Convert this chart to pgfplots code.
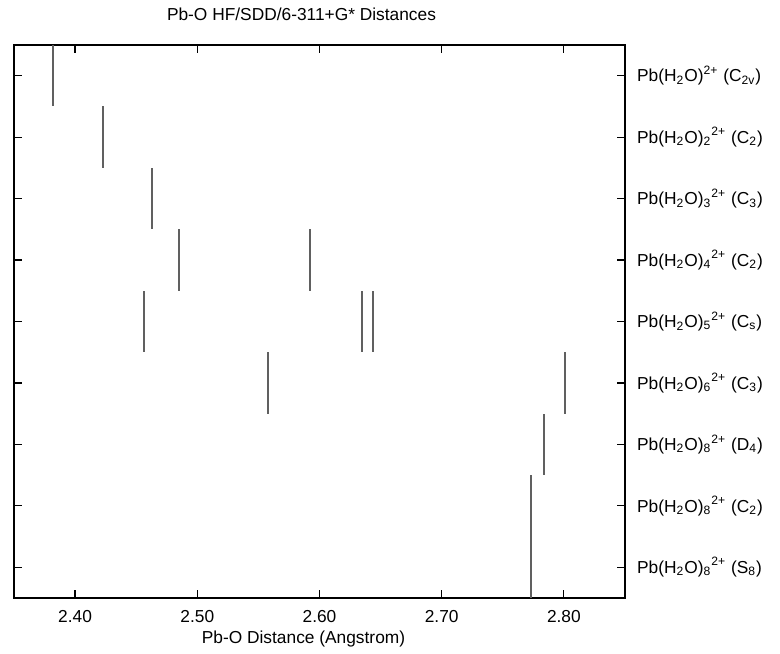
\documentclass[border=0pt]{standalone}
\usepackage{fontspec}
\setmainfont{Liberation Sans}
\usepackage{pgfplots}
\pgfplotsset{compat=1.18}
\usetikzlibrary{calc}

\pgfplotstableread{
dist row
2.382 9
2.423 8
2.463 7
2.485 6
2.592 6
2.456 5
2.635 5
2.644 5
2.558 4
2.801 4
2.784 3
2.773 2
2.773 1
}\pbodata

\newcommand{\pbw}[1]{Pb(H\textsubscript{2}O)\textsubscript{#1}\textsuperscript{2+}}

\begin{document}
\fontsize{8.7}{10.4}\selectfont
\begin{tikzpicture}
\begin{axis}[
  scale only axis,
  width=305.5bp, height=276.5bp,
  xmin=2.35, xmax=2.85, ymin=0.5, ymax=9.5,
  xtick={2.4,2.5,2.6,2.7,2.8},
  xticklabel style={yshift=-3bp, /pgf/number format/.cd, fixed, fixed zerofill, precision=2, assume math mode=true},
  ytick={1,...,9},
  yticklabels={
    \pbw{8} (S\textsubscript{8}),
    \pbw{8} (C\textsubscript{2}),
    \pbw{8} (D\textsubscript{4}),
    \pbw{6} (C\textsubscript{3}),
    \pbw{5} (C\textsubscript{s}),
    \pbw{4} (C\textsubscript{2}),
    \pbw{3} (C\textsubscript{3}),
    \pbw{2} (C\textsubscript{2}),
    Pb(H\textsubscript{2}O)\textsuperscript{2+} (C\textsubscript{2v})},
  yticklabel pos=right,
  yticklabel style={xshift=3bp},
  tick align=inside,
  major tick length=4bp,
  tick style={black, line width=0.6bp},
  axis line style={black, line width=0.8bp},
  tick label style={font=\fontsize{8.7}{10.4}\selectfont},
  xlabel={Pb-O Distance (Angstrom)},
  xlabel style={yshift=1.5bp, xshift=-8bp},
  title={Pb-O HF/SDD/6-311+G* Distances},
  title style={yshift=3bp, xshift=-9bp},
]
\addplot[draw=none, mark=none,
  error bars/.cd, y dir=both, y fixed=0.5, error mark=none,
  error bar style={draw=gray!75!black, line width=1bp}]
  table[x=dist, y=row] {\pbodata};
\coordinate (sw) at (rel axis cs:0,0);
\coordinate (ne) at (rel axis cs:1,1);
\end{axis}
\pgfresetboundingbox
\path ($(sw)+(-7bp,-28bp)$) rectangle ($(ne)+(77.5bp,22.5bp)$);
\end{tikzpicture}
\end{document}
